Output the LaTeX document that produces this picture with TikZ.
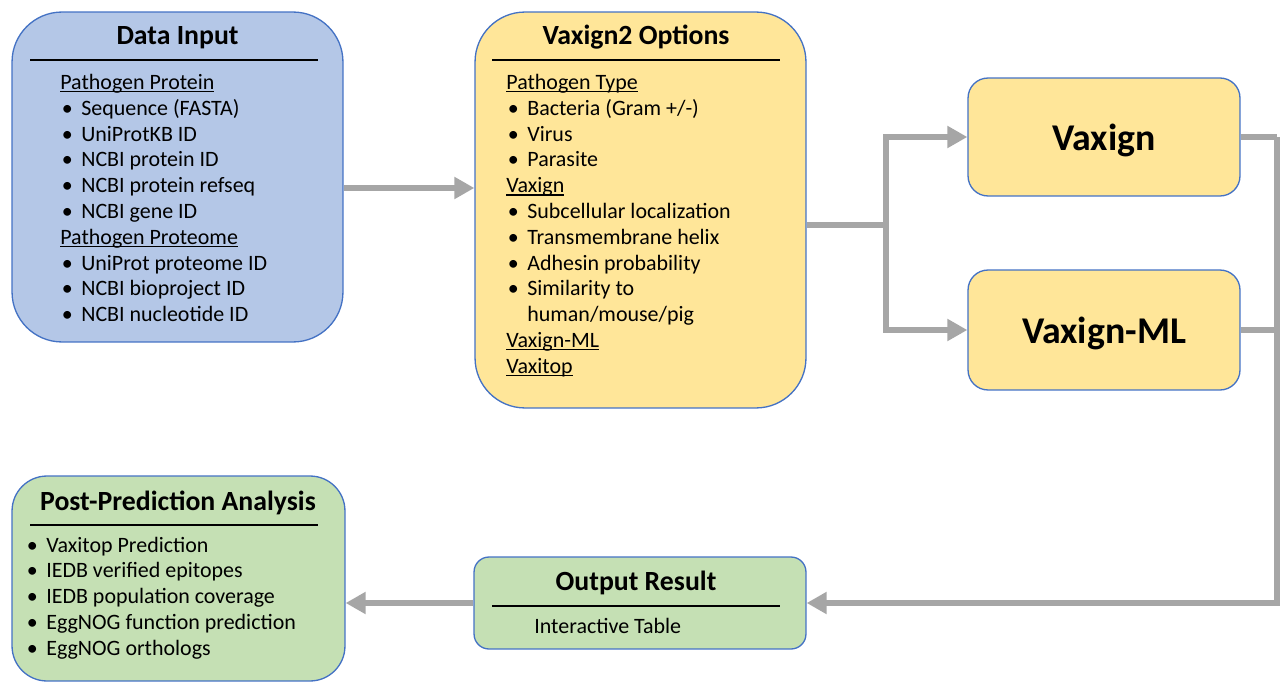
\documentclass[tikz,border=0pt]{standalone}
\usepackage{fontspec}
\setmainfont{Carlito}
\usetikzlibrary{arrows.meta}

\definecolor{inblue}{HTML}{B4C7E7}
\definecolor{optyellow}{HTML}{FFE699}
\definecolor{resgreen}{HTML}{C5E0B4}
\definecolor{edgeblue}{HTML}{4472C4}
\definecolor{flowgray}{HTML}{A6A6A6}

\newcommand{\hd}[1]{\setbox0\hbox{#1}\rlap{\rule[-1.6pt]{\wd0}{0.6pt}}\box0}
\newcommand{\bl}[1]{\makebox[0.42cm][l]{\hspace{0.03cm}\textbullet}#1}
\newcommand{\cont}[1]{\hspace{0.42cm}#1}

\tikzset{
  box/.style={draw=edgeblue, line width=0.75pt, inner sep=0pt},
  ttl/.style={anchor=base, inner sep=0pt, font=\bfseries\fontsize{15.8}{18}\selectfont},
  txt/.style={anchor=base west, inner sep=0pt, font=\fontsize{12.5}{15}\selectfont},
  big/.style={text depth=0pt, font=\bfseries\fontsize{21.5}{25}\selectfont},
  rule/.style={line width=0.7pt},
  flowline/.style={draw=flowgray, line width=3.4pt},
  flow/.style={flowline, -{Triangle[length=0.4cm, width=0.42cm]}}
}

\begin{document}
\begin{tikzpicture}[x=0.02cm, y=-0.02cm]
  \useasboundingbox (0,0) rectangle (1280,682);

  % boxes
  \node[box, fill=inblue, rounded corners=1cm, minimum width=6.62cm, minimum height=6.6cm] (input) at (177.5,177) {};
  \node[box, fill=optyellow, rounded corners=1cm, minimum width=6.62cm, minimum height=7.92cm] (options) at (640.5,210) {};
  \node[box, fill=optyellow, rounded corners=0.4cm, minimum width=5.44cm, minimum height=2.36cm, big] (vaxign) at (1104,137) {Vaxign};
  \node[box, fill=optyellow, rounded corners=0.4cm, minimum width=5.44cm, minimum height=2.4cm, big] (vaxignml) at (1104,330) {Vaxign-ML};
  \node[box, fill=resgreen, rounded corners=0.7cm, minimum width=6.66cm, minimum height=4.1cm] (post) at (178.5,578.5) {};
  \node[box, fill=resgreen, rounded corners=0.3cm, minimum width=6.64cm, minimum height=1.84cm] (output) at (640,603) {};

  % titles and rules
  \node[ttl] (input-t) at (177.5,45) {Data Input};
  \draw[rule] (30,60) -- (318,60);
  \node[ttl] (options-t) at (636,45) {Vaxign2 Options};
  \draw[rule] (492,60) -- (780,60);
  \node[ttl] (post-t) at (178,510) {Post-Prediction Analysis};
  \draw[rule] (30,525) -- (318,525);
  \node[ttl] (output-t) at (636,590) {Output Result};
  \draw[rule] (492,606) -- (780,606);

  % lists
  \foreach \txt [count=\i from 0] in {\hd{Pathogen Protein}, \bl{Sequence (FASTA)}, \bl{UniProtKB ID},
      \bl{NCBI protein ID}, \bl{NCBI protein refseq}, \bl{NCBI gene ID}, \hd{Pathogen Proteome},
      \bl{UniProt proteome ID}, \bl{NCBI bioproject ID}, \bl{NCBI nucleotide ID}}
    \node[txt] (input-\i) at (60,89.5+25.8*\i) {\txt};

  \foreach \txt [count=\i from 0] in {\hd{Pathogen Type}, \bl{Bacteria (Gram +/-)}, \bl{Virus},
      \bl{Parasite}, \hd{Vaxign}, \bl{Subcellular localization}, \bl{Transmembrane helix},
      \bl{Adhesin probability}, \bl{Similarity to}, \cont{human/mouse/pig}, \hd{Vaxign-ML}, \hd{Vaxitop}}
    \node[txt] (options-\i) at (506,89.5+25.8*\i) {\txt};

  \foreach \txt [count=\i from 0] in {\bl{Vaxitop Prediction}, \bl{IEDB verified epitopes},
      \bl{IEDB population coverage}, \bl{EggNOG function prediction}, \bl{EggNOG orthologs}}
    \node[txt] (post-\i) at (25,552+25.8*\i) {\txt};

  \node[txt] (output-0) at (534,633) {Interactive Table};

  % connectors
  \draw[flow] ([yshift=-0.22cm]input.east) -- ([yshift=-0.22cm]input.east -| options.west);
  \draw[flowline] ([yshift=-0.3cm]options.east) -- ++(1.58cm,0) coordinate (split);
  \draw[flow] (split) |- (vaxign.west);
  \draw[flow] (split) |- (vaxignml.west);
  \draw[flowline] (vaxign.east) -- ++(0.72cm,0) coordinate (rside);
  \draw[flowline] (vaxignml.east) -- (vaxignml.east -| rside);
  \draw[flow] (rside) |- (output.east);
  \draw[flow] (output.west) -- (output.west -| post.east);
\end{tikzpicture}
\end{document}
